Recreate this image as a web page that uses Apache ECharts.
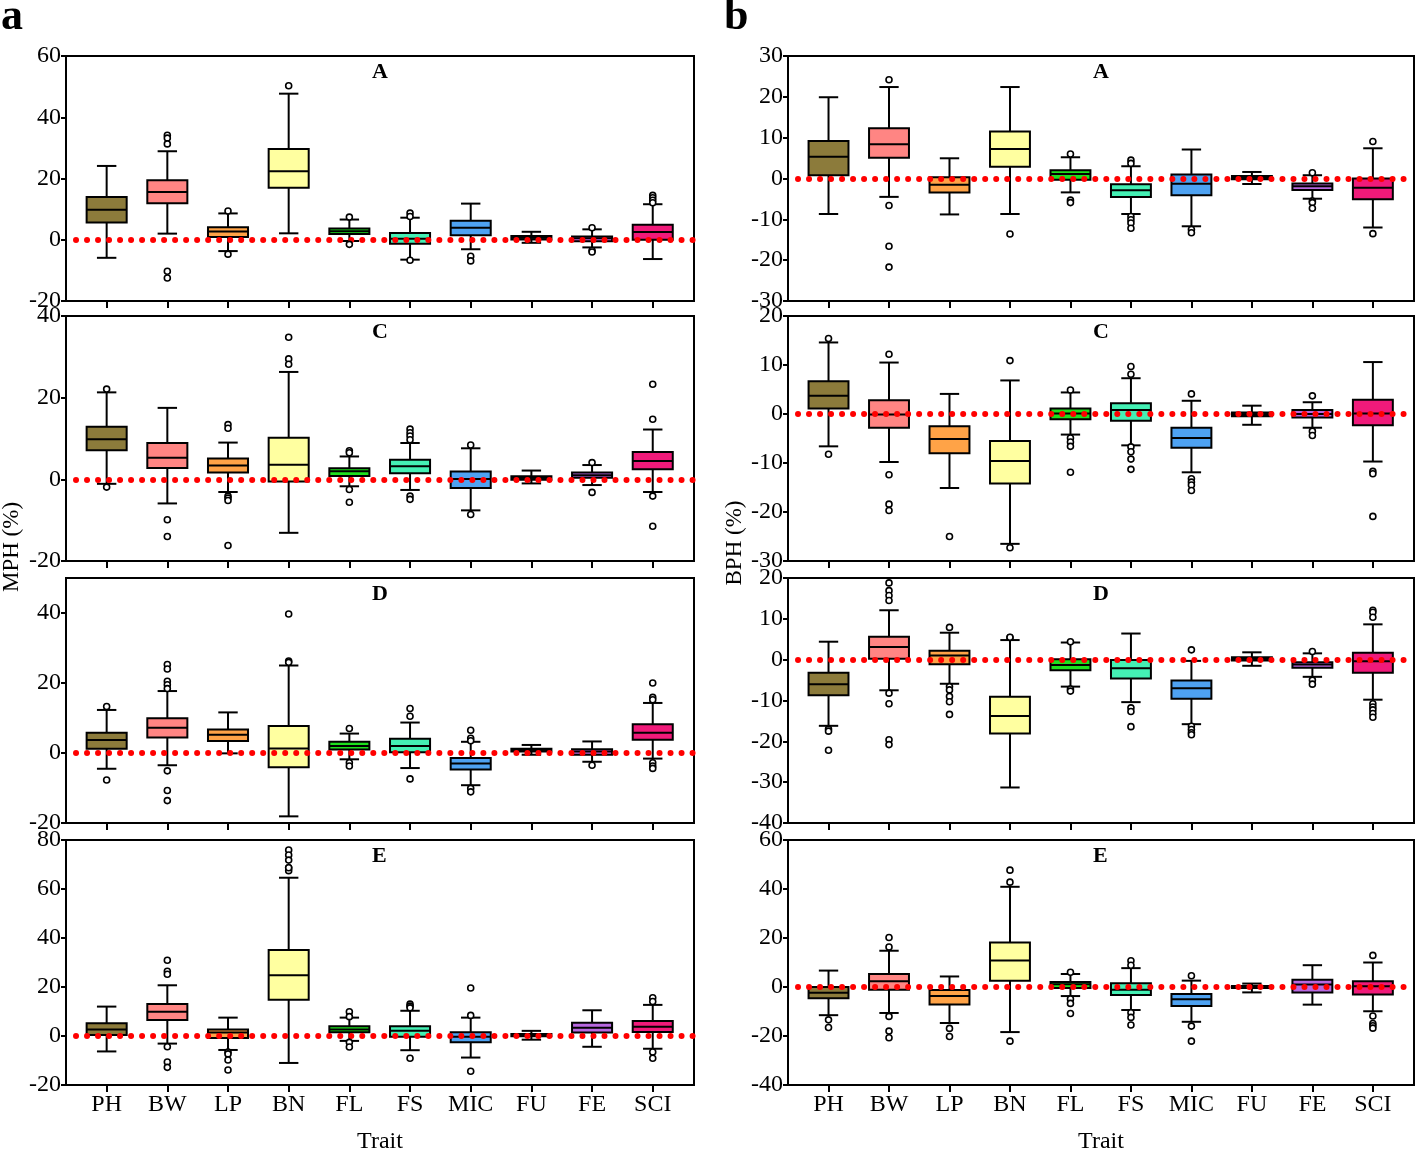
<!DOCTYPE html>
<html>
<head>
<meta charset="utf-8">
<script src="https://cdn.jsdelivr.net/npm/echarts@6/dist/echarts.min.js"></script>
<style>html,body{margin:0;padding:0;background:#fff}#c{width:1418px;height:1153px}</style>
</head>
<body>
<div id="c"></div>
<script>
const traits = ['PH','BW','LP','BN','FL','FS','MIC','FU','FE','SCI'];
const traitColors = ['#8C7B3B','#FF8583','#FFA347','#FFFFA0','#1EE01E','#44F0B4','#4EA2F2','#111111','#B868E0','#F01A7A'];

// [whisker low, Q1, median, Q3, whisker high] per trait
const L_A_box = [[-5.9,5.6,9.8,14.0,24.1],[2.0,11.9,15.6,19.4,28.9],[-3.7,0.9,2.7,4.1,8.6],[2.1,17.0,22.4,29.6,47.7],[-0.4,1.9,2.8,3.7,6.6],[-6.5,-1.3,0.3,2.2,7.2],[-3.1,1.5,3.9,6.2,11.8],[-1.0,0.1,0.9,1.2,2.6],[-2.5,-0.5,0.5,1.1,3.4],[-6.3,0.0,2.5,4.9,11.6]];
const L_A_out = [[],[34.1,33.2,31.3,-10.3,-12.5],[9.4,-4.7],[50.3],[7.4,-1.5],[8.7,7.6,-6.7],[-5.4,-6.9],[],[3.9,-3.5,-4.0],[14.5,13.7,12.9,12.1]];

const R_A_box = [[-8.7,0.8,5.3,9.2,19.9],[-4.5,5.1,8.4,12.3,22.4],[-8.8,-3.4,-1.5,0.3,4.95],[-8.7,2.9,7.2,11.5,22.4],[-3.4,-0.3,1.1,2.0,5.2],[-8.7,-4.5,-2.9,-1.4,3.0],[-11.7,-4.1,-1.3,1.0,7.1],[-1.35,-0.2,0.2,0.6,1.6],[-4.95,-2.8,-1.9,-1.2,0.8],[-12.0,-5.1,-2.25,0.0,7.4]];
const R_A_out = [[],[24.2,-6.6,-16.6,-21.7],[],[-13.6],[6.0,-5.3,-5.9],[4.5,3.7,-9.3,-10.1,-10.9,-12.2],[-12.5,-13.3],[],[1.4,-5.5,-5.9,-7.3],[9.05,-13.5]];

const L_C_box = [[-1.1,7.1,9.8,12.9,21.3],[-5.9,2.8,5.3,8.9,17.5],[-3.1,1.7,3.4,5.1,9.0],[-13.1,-0.5,3.6,10.2,26.3],[-1.7,0.8,2.0,2.7,5.6],[-2.6,1.5,3.2,4.8,8.9],[-7.6,-2.1,0.1,1.9,7.6],[-1.0,-0.1,0.4,0.75,2.15],[-1.4,0.4,1.0,1.7,3.5],[-3.1,2.5,4.5,6.7,12.2]];
const L_C_out = [[22.1,-1.9],[-9.9,-14.0],[13.4,12.5,-4.1,-4.6,-5.2,-16.2],[34.8,29.5,28.2],[7.0,6.5,-2.5,-5.6],[12.3,11.4,10.6,9.7,-4.1,-4.9],[8.4,-8.6],[],[4.1,-3.2],[23.3,14.7,-4.1,-11.5]];

const R_C_box = [[-6.6,1.1,3.7,6.7,14.6],[-9.8,-2.8,-0.1,2.8,10.5],[-15.1,-8.0,-5.1,-2.5,4.1],[-26.5,-14.2,-9.6,-5.5,6.85],[-4.2,-1.05,0.1,1.1,4.4],[-6.4,-1.4,0.8,2.2,7.3],[-11.9,-6.9,-4.9,-2.8,2.7],[-2.2,-0.45,-0.1,0.3,1.7],[-2.8,-0.7,0.0,0.8,2.4],[-9.7,-2.3,0.1,2.9,10.6]];
const R_C_out = [[15.4,-8.2],[12.2,-12.4,-18.4,-19.7],[-25.0],[10.9,-27.3],[4.9,-4.9,-5.7,-6.6,-11.9],[9.7,8.1,-6.7,-7.7,-9.2,-11.3],[4.1,-13.2,-13.9,-14.5,-15.6],[],[3.7,-3.5,-4.4],[-11.7,-12.2,-20.9]];

const L_D_box = [[-4.5,1.2,3.7,5.8,12.3],[-3.5,4.4,7.2,9.9,17.7],[-0.1,3.4,5.2,6.7,11.6],[-18.1,-4.1,1.3,7.75,25.0],[-1.8,1.0,2.0,3.2,5.55],[-4.3,0.2,2.0,4.1,8.7],[-9.2,-4.7,-3.0,-1.4,3.2],[-0.5,0.4,1.0,1.2,2.3],[-2.5,-0.5,0.4,1.1,3.3],[-1.6,3.8,5.8,8.2,14.3]];
const L_D_out = [[13.3,-7.7],[25.3,24.0,20.5,19.5,18.4,-5.1,-10.7,-13.6],[],[39.7,26.3,25.9],[7.0,-2.8,-3.7],[12.7,10.5,-7.4],[6.5,4.2,3.5,-10.1,-11.1],[],[-3.5],[20.0,15.9,15.2,-2.8,-3.7,-4.4]];

const R_D_box = [[-16.2,-8.7,-6.0,-3.2,4.4],[-7.5,0.2,3.1,5.6,12.1],[-5.9,-1.1,1.0,2.2,6.6],[-31.3,-18.1,-13.8,-9.1,4.8],[-6.6,-2.6,-1.3,0.1,4.2],[-10.4,-4.6,-2.1,-0.1,6.4],[-15.8,-9.55,-7.0,-5.1,-0.3],[-1.5,-0.2,0.2,0.6,1.8],[-4.2,-2.0,-1.2,-0.65,1.55],[-9.8,-3.2,-0.4,1.7,8.65]];
const R_D_out = [[-17.0,-17.5,-22.2],[18.8,16.9,15.7,14.5,-8.2,-10.8,-19.6,-20.8],[7.9,-6.6,-7.4,-9.0,-10.3,-13.4],[5.4,5.5],[4.4,-7.2,-7.7],[-11.8,-12.7,-16.4],[2.4,-16.3,-17.1,-17.9,-18.4],[],[2.0,-5.0,-6.0],[12.1,11.6,10.4,-10.8,-11.6,-12.3,-13.2,-14.1]];

const L_E_box = [[-6.3,0.4,2.7,5.2,12.0],[-3.1,6.5,9.9,13.1,20.7],[-5.7,-0.8,1.4,2.7,7.5],[-11.0,14.8,24.8,35.1,64.6],[-2.0,1.5,2.7,4.0,7.5],[-5.8,-0.3,2.1,4.0,10.3],[-8.8,-2.6,-0.3,1.5,7.5],[-1.5,-0.1,0.4,0.8,2.1],[-4.4,1.4,3.4,5.4,10.5],[-5.2,1.6,3.8,6.1,12.7]];
const L_E_out = [[],[30.9,26.4,25.2,-4.4,-10.6,-12.8],[-6.5,-7.3,-9.8,-13.9],[75.9,73.9,71.8,68.7,67.5,68.7],[9.9,7.9,-2.6,-4.5],[13.0,12.2,11.5,-9.1],[19.6,8.4,-14.4],[],[],[15.6,14.1,-6.5,-9.1]];

const R_E_box = [[-11.5,-4.6,-2.3,0.0,6.7],[-10.6,-1.1,2.3,5.3,14.8],[-14.7,-7.1,-3.7,-1.2,4.3],[-18.4,2.6,10.8,18.2,40.9],[-3.7,-0.4,1.1,2.0,5.3],[-9.4,-3.3,-1.1,1.5,7.7],[-14.2,-7.8,-5.05,-2.9,2.6],[-2.2,-0.4,0.0,0.4,1.4],[-7.2,-2.2,1.0,3.0,8.9],[-9.9,-3.1,0.3,2.3,10.0]];
const R_E_out = [[-13.4,-16.5],[20.2,16.3,-12.0,-18.0,-20.7],[-16.9,-20.2],[47.7,42.8,-22.1],[6.0,-4.9,-6.7,-10.8],[10.7,8.9,-10.5,-12.4,-15.5],[4.6,-15.95,-22.1],[],[],[12.9,-11.85,-14.9,-15.8,-16.8]];

// y-axis settings: [min, max, interval, tick labels]
const L_A_y = [-20, 60, 20, [-20,0,20,40,60]];
const L_C_y = [-20, 40, 20, [-20,0,20,40]];
const L_D_y = [-20, 50, 20, [-20,0,20,40]];
const L_E_y = [-20, 80, 20, [-20,0,20,40,60,80]];
const R_A_y = [-30, 30, 10, [-30,-20,-10,0,10,20,30]];
const R_C_y = [-30, 20, 10, [-30,-20,-10,0,10,20]];
const R_D_y = [-40, 20, 10, [-40,-30,-20,-10,0,10,20]];
const R_E_y = [-40, 60, 20, [-40,-20,0,20,40,60]];

const panelLetters = ['A','C','D','E'];

const FONT = "'Liberation Serif','Times New Roman',serif";
const tops = [56, 316, 578, 840];
const H = 245;
const cols = [{left:66, width:628}, {left:788, width:626}];

const panels = [
  {col:0,row:0,box:L_A_box,out:L_A_out,y:L_A_y},
  {col:0,row:1,box:L_C_box,out:L_C_out,y:L_C_y},
  {col:0,row:2,box:L_D_box,out:L_D_out,y:L_D_y},
  {col:0,row:3,box:L_E_box,out:L_E_out,y:L_E_y},
  {col:1,row:0,box:R_A_box,out:R_A_out,y:R_A_y},
  {col:1,row:1,box:R_C_box,out:R_C_out,y:R_C_y},
  {col:1,row:2,box:R_D_box,out:R_D_out,y:R_D_y},
  {col:1,row:3,box:R_E_box,out:R_E_out,y:R_E_y}
];

function renderBox(params, api) {
  const x = api.value(0);
  const lo = api.coord([x, api.value(1)]);
  const q1 = api.coord([x, api.value(2)]);
  const md = api.coord([x, api.value(3)]);
  const q3 = api.coord([x, api.value(4)]);
  const hi = api.coord([x, api.value(5)]);
  const unit = api.size([1, 0])[0];
  const bw = unit * 0.66, cw = unit * 0.32;
  const cx = lo[0];
  const st = {stroke:'#000', lineWidth:2};
  return {type:'group', children:[
    {type:'line', shape:{x1:cx,y1:hi[1],x2:cx,y2:q3[1]}, style:st},
    {type:'line', shape:{x1:cx,y1:q1[1],x2:cx,y2:lo[1]}, style:st},
    {type:'line', shape:{x1:cx-cw/2,y1:hi[1],x2:cx+cw/2,y2:hi[1]}, style:st},
    {type:'line', shape:{x1:cx-cw/2,y1:lo[1],x2:cx+cw/2,y2:lo[1]}, style:st},
    {type:'rect', shape:{x:cx-bw/2,y:q3[1],width:bw,height:q1[1]-q3[1]}, style:{fill:traitColors[x-1], stroke:'#000', lineWidth:2}},
    {type:'line', shape:{x1:cx-bw/2,y1:md[1],x2:cx+bw/2,y2:md[1]}, style:st}
  ]};
}

const grid = [], xAxis = [], yAxis = [], series = [], graphic = [];
panels.forEach((p, i) => {
  const c = cols[p.col];
  grid.push({left:c.left, width:c.width, top:tops[p.row], height:H, show:true, borderColor:'#000', borderWidth:2, backgroundColor:'transparent', containLabel:false, outerBoundsMode:'none'});
  const bottom = p.row === 3;
  xAxis.push({
    type:'value', gridIndex:i, min:0.33, max:10.68,
    splitLine:{show:false},
    axisLine:{show:true, onZero:false, lineStyle:{color:'#000', width:2}},
    axisTick:{show:true, inside:false, length:7, lineStyle:{color:'#000', width:2}, customValues:[1,2,3,4,5,6,7,8,9,10]},
    axisLabel:{show:bottom, customValues:[1,2,3,4,5,6,7,8,9,10], formatter:v => traits[Math.round(v)-1] || '', color:'#000', fontFamily:FONT, fontSize:24, margin:8},
    name: bottom ? 'Trait' : '', nameLocation:'middle', nameGap:45,
    nameTextStyle:{color:'#000', fontFamily:FONT, fontSize:24}
  });
  yAxis.push({
    type:'value', gridIndex:i, min:p.y[0], max:p.y[1], interval:p.y[2],
    splitLine:{show:false},
    axisLine:{show:true, onZero:false, lineStyle:{color:'#000', width:2}},
    axisTick:{show:true, length:5, lineStyle:{color:'#000', width:2}, customValues:p.y[3]},
    axisLabel:{customValues:p.y[3], color:'#000', fontFamily:FONT, fontSize:24, margin:5}
  });
  series.push({
    type:'custom', xAxisIndex:i, yAxisIndex:i, z:2,
    renderItem:renderBox,
    encode:{x:0, y:[1,2,3,4,5]},
    data:p.box.map((b, k) => [k+1].concat(b))
  });
  const outs = [];
  p.out.forEach((arr, k) => arr.forEach(v => outs.push([k+1, v])));
  series.push({
    type:'scatter', xAxisIndex:i, yAxisIndex:i, z:4,
    symbol:'circle', symbolSize:6,
    itemStyle:{color:'#fff', borderColor:'#000', borderWidth:1.6, opacity:1},
    data:outs,
    markLine:{
      silent:true, symbol:['none','none'], label:{show:false},
      lineStyle:{color:'#ff0000', width:6, type:[0.01, 11], cap:'round', dashOffset:1, opacity:1},
      data:[{yAxis:0}], z:3, animation:false
    }
  });
  graphic.push({
    type:'text', left:c.left + c.width/2 - 8, top:tops[p.row] + 5, z:10,
    style:{text:panelLetters[p.row], font:'bold 22px ' + FONT, fill:'#000'}
  });
});

graphic.push({type:'text', left:1, top:-4, style:{text:'a', font:'bold 44px ' + FONT, fill:'#000'}});
graphic.push({type:'text', left:724, top:-4, style:{text:'b', font:'bold 44px ' + FONT, fill:'#000'}});
graphic.push({type:'text', x:12, y:547, rotation:Math.PI/2, style:{text:'MPH (%)', font:'23px ' + FONT, fill:'#000', align:'center', verticalAlign:'middle'}});
graphic.push({type:'text', x:735, y:543, rotation:Math.PI/2, style:{text:'BPH (%)', font:'23px ' + FONT, fill:'#000', align:'center', verticalAlign:'middle'}});

const chart = echarts.init(document.getElementById('c'), null, {renderer:'canvas'});
chart.setOption({
  animation:false,
  backgroundColor:'#fff',
  grid, xAxis, yAxis, series, graphic
});
</script>
</body>
</html>
